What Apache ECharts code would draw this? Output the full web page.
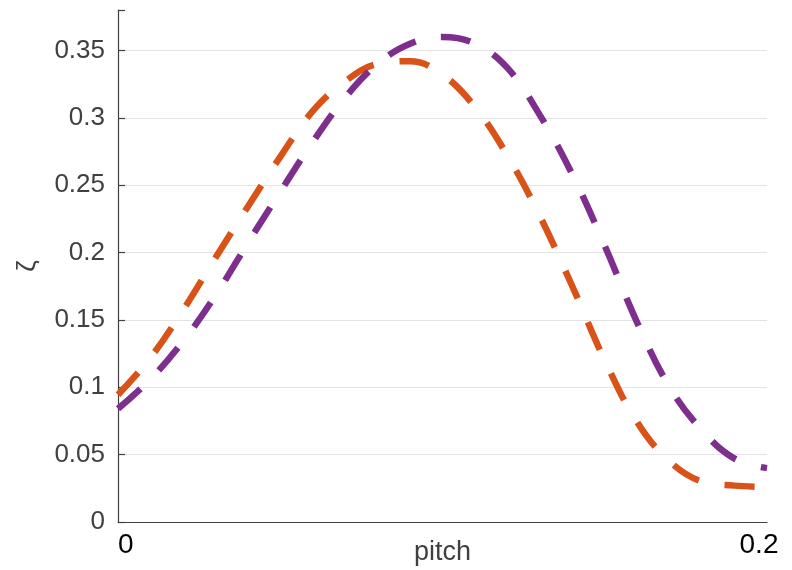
<!DOCTYPE html>
<html>
<head>
<meta charset="utf-8">
<script src="https://cdn.jsdelivr.net/npm/echarts@6.0.0/dist/echarts.min.js"></script>
<style>
  html, body { margin: 0; padding: 0; background: #fff; }
  #chart { width: 792px; height: 570px; }
</style>
</head>
<body>
<div id="chart"></div>
<script>
// pitch values (x)
const pitch = [0, 0.01, 0.02, 0.03, 0.04, 0.05, 0.06, 0.07, 0.08, 0.09, 0.1,
  0.11, 0.12, 0.13, 0.14, 0.15, 0.16, 0.17, 0.18, 0.19, 0.2];
// orange dashed curve
const zetaOrange = [0.0945, 0.122, 0.157, 0.196, 0.234, 0.271, 0.305, 0.327, 0.340, 0.342, 0.332,
  0.308, 0.272, 0.227, 0.175, 0.120, 0.074, 0.045, 0.030, 0.027, 0.026];
// purple dashed curve
const zetaPurple = [0.084, 0.106, 0.134, 0.168, 0.207, 0.245, 0.282, 0.315, 0.340, 0.355, 0.360,
  0.355, 0.337, 0.302, 0.258, 0.205, 0.148, 0.100, 0.068, 0.047, 0.040];
const yTicks = [0, 0.05, 0.1, 0.15, 0.2, 0.25, 0.3, 0.35];

const font = '"Liberation Sans", Arial, Helvetica, sans-serif';
const axisColor = '#404040';

const chart = echarts.init(document.getElementById('chart'));
chart.setOption({
  animation: false,
  backgroundColor: '#fff',
  grid: { left: 118, right: 25, top: 10, bottom: 48, outerBoundsMode: 'none', containLabel: false },
  xAxis: {
    type: 'value',
    min: 0,
    max: 0.2,
    interval: 0.2,
    name: 'pitch',
    nameLocation: 'middle',
    nameGap: 17,
    nameMoveOverlap: false,
    nameTextStyle: { color: axisColor, fontSize: 27, fontFamily: font, verticalAlign: 'top' },
    axisLine: { lineStyle: { color: axisColor, width: 1.2 } },
    axisTick: { show: false },
    splitLine: { show: false },
    axisLabel: {
      color: '#000',
      fontSize: 28,
      fontFamily: font,
      margin: 9,
      alignMinLabel: 'left',
      alignMaxLabel: 'center',
      padding: [0, 16, 0, 0]
    }
  },
  yAxis: {
    type: 'value',
    min: 0,
    max: 0.38,
    interval: 0.05,
    name: 'ζ',
    nameLocation: 'middle',
    nameRotate: 90,
    nameGap: 77,
    nameMoveOverlap: false,
    nameTextStyle: { color: axisColor, fontSize: 26, fontFamily: font },
    axisLine: { show: true, lineStyle: { color: axisColor, width: 1.2 } },
    axisTick: { show: true, inside: true, length: 7, lineStyle: { color: axisColor, width: 1.2 } },
    axisLabel: {
      color: axisColor,
      fontSize: 26,
      fontFamily: font,
      margin: 13,
      customValues: yTicks
    },
    splitLine: { show: true, showMaxLine: false, showMinLine: false, lineStyle: { color: '#e3e3e3', width: 1.2 } }
  },
  series: [
    {
      type: 'line',
      data: pitch.map((x, i) => [x, zetaOrange[i]]),
      smooth: 0.4,
      showSymbol: false,
      lineStyle: { color: '#D95319', width: 6.5, type: [30, 26] }
    },
    {
      type: 'line',
      data: pitch.map((x, i) => [x, zetaPurple[i]]),
      smooth: 0.4,
      showSymbol: false,
      lineStyle: { color: '#7E2F8E', width: 6.5, type: [30, 26] }
    }
  ]
});
</script>
</body>
</html>
